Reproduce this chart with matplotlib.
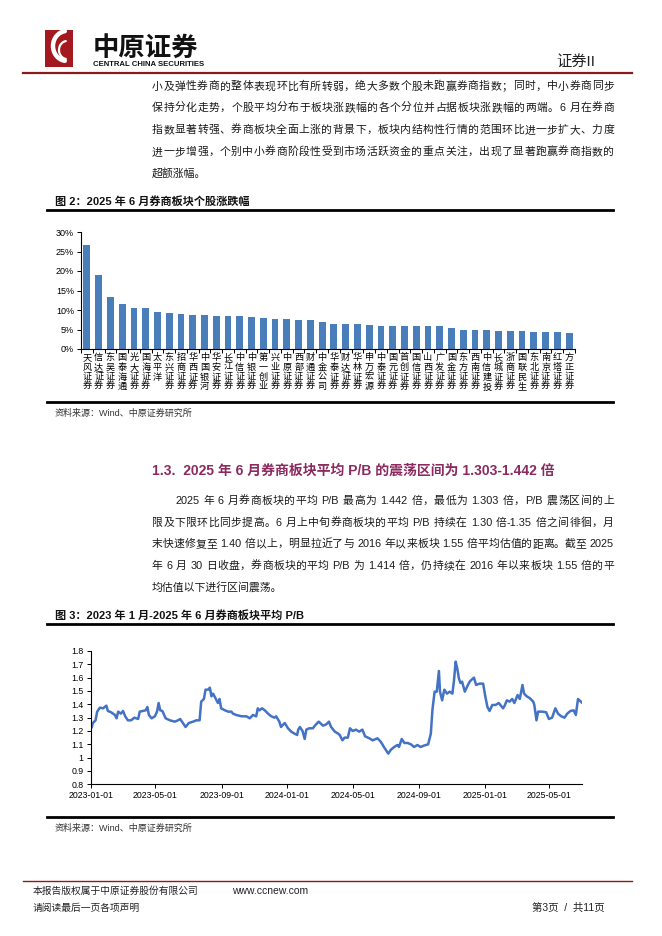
import matplotlib
matplotlib.use('Agg')
import numpy as np
import pandas as pd
from matplotlib import pyplot as plt
from matplotlib.lines import Line2D
from matplotlib.ticker import FuncFormatter

FAM = ['Liberation Sans', 'Noto Sans CJK SC']
plt.rcParams['font.family'] = FAM

# ---- data: figure 2, June 2025 broker stock returns (%)
brokers = ['天风证券', '信达证券', '东吴证券', '国泰海通', '光大证券', '国海证券', '太平洋',
           '东兴证券', '招商证券', '华西证券', '中国银河', '华安证券', '长江证券', '中信证券',
           '中银证券', '第一创业', '兴业证券', '中原证券', '西部证券', '财通证券', '中金公司',
           '华泰证券', '财达证券', '华林证券', '申万宏源', '中泰证券', '国元证券', '首创证券',
           '国信证券', '山西证券', '广发证券', '国金证券', '东方证券', '西南证券', '中信建投',
           '长城证券', '浙商证券', '国联民生', '东北证券', '南京证券', '红塔证券', '方正证券']
returns = [26.7, 19.1, 13.3, 11.5, 10.5, 10.5, 9.5, 9.2, 9.0, 8.7, 8.7, 8.5, 8.5, 8.5,
           8.2, 7.9, 7.7, 7.7, 7.4, 7.4, 6.9, 6.4, 6.4, 6.4, 6.2, 5.9, 5.9, 5.9,
           5.9, 5.9, 5.9, 5.4, 4.9, 4.9, 4.9, 4.6, 4.6, 4.6, 4.4, 4.4, 4.4, 4.1]
ret_ticks = [0, 5, 10, 15, 20, 25, 30]

# ---- data: figure 3, average P/B of the broker sector
dates_2023 = ['2023-01-03', '2023-01-05', '2023-01-10', '2023-01-13', '2023-01-18', '2023-01-24',
              '2023-01-30', '2023-02-02', '2023-02-08', '2023-02-15', '2023-02-18', '2023-02-21',
              '2023-02-26', '2023-03-02', '2023-03-06', '2023-03-11', '2023-03-17', '2023-03-23',
              '2023-03-30', '2023-04-02', '2023-04-08', '2023-04-13', '2023-04-16', '2023-04-19',
              '2023-04-24', '2023-04-30', '2023-05-04', '2023-05-07', '2023-05-10', '2023-05-14',
              '2023-05-20', '2023-05-28', '2023-06-06', '2023-06-12', '2023-06-16', '2023-06-21',
              '2023-06-26', '2023-07-02', '2023-07-10', '2023-07-16', '2023-07-22', '2023-07-25',
              '2023-07-30', '2023-08-02', '2023-08-07', '2023-08-10', '2023-08-13', '2023-08-16',
              '2023-08-20', '2023-08-25', '2023-08-28', '2023-08-31', '2023-09-07', '2023-09-13',
              '2023-09-19', '2023-09-22', '2023-09-28', '2023-10-08', '2023-10-17', '2023-10-23',
              '2023-10-29', '2023-11-04', '2023-11-07', '2023-11-10', '2023-11-15', '2023-11-20',
              '2023-11-26', '2023-12-02', '2023-12-08', '2023-12-11', '2023-12-17', '2023-12-20',
              '2023-12-27']
pb_2023 = [1.23, 1.26, 1.28, 1.345, 1.375, 1.37, 1.39, 1.35, 1.34, 1.32, 1.295, 1.345,
           1.33, 1.35, 1.31, 1.28, 1.28, 1.30, 1.29, 1.345, 1.35, 1.355, 1.38, 1.32,
           1.295, 1.31, 1.345, 1.41, 1.355, 1.35, 1.295, 1.28, 1.27, 1.28, 1.29, 1.26,
           1.23, 1.26, 1.27, 1.28, 1.28, 1.42, 1.44, 1.51, 1.51, 1.525, 1.46, 1.48,
           1.45, 1.41, 1.44, 1.37, 1.355, 1.345, 1.345, 1.33, 1.32, 1.31, 1.31, 1.295,
           1.32, 1.31, 1.37, 1.355, 1.37, 1.355, 1.33, 1.31, 1.30, 1.31, 1.27, 1.23,
           1.26]

dates_2024 = ['2024-01-02', '2024-01-08', '2024-01-14', '2024-01-19', '2024-01-21', '2024-01-24',
              '2024-01-29', '2024-02-02', '2024-02-05', '2024-02-10', '2024-02-17', '2024-02-22',
              '2024-02-28', '2024-03-07', '2024-03-13', '2024-03-18', '2024-03-22', '2024-03-29',
              '2024-04-04', '2024-04-07', '2024-04-12', '2024-04-16', '2024-04-22', '2024-04-26',
              '2024-05-01', '2024-05-07', '2024-05-13', '2024-05-19', '2024-05-24', '2024-06-01',
              '2024-06-07', '2024-06-16', '2024-06-22', '2024-06-28', '2024-07-06', '2024-07-11',
              '2024-07-17', '2024-07-23', '2024-07-26', '2024-07-31', '2024-08-05', '2024-08-11',
              '2024-08-17', '2024-08-23', '2024-08-29', '2024-09-04', '2024-09-10', '2024-09-18',
              '2024-09-23', '2024-09-26', '2024-09-30', '2024-10-04', '2024-10-08', '2024-10-10',
              '2024-10-14', '2024-10-18', '2024-10-23', '2024-10-28', '2024-11-02', '2024-11-05',
              '2024-11-08', '2024-11-11', '2024-11-14', '2024-11-17', '2024-11-20', '2024-11-25',
              '2024-11-29', '2024-12-04', '2024-12-09', '2024-12-12', '2024-12-16', '2024-12-22',
              '2024-12-29']
pb_2024 = [1.22, 1.195, 1.18, 1.17, 1.21, 1.23, 1.20, 1.14, 1.21, 1.22, 1.22, 1.245,
           1.27, 1.24, 1.25, 1.27, 1.23, 1.195, 1.18, 1.17, 1.13, 1.15, 1.15, 1.22,
           1.20, 1.21, 1.195, 1.21, 1.16, 1.145, 1.13, 1.145, 1.12, 1.08, 1.03, 1.06,
           1.08, 1.095, 1.08, 1.14, 1.11, 1.11, 1.10, 1.08, 1.095, 1.08, 1.09, 1.10,
           1.18, 1.36, 1.495, 1.495, 1.65, 1.495, 1.43, 1.51, 1.48, 1.495, 1.48, 1.58,
           1.72, 1.67, 1.595, 1.56, 1.57, 1.495, 1.53, 1.57, 1.59, 1.60, 1.545, 1.555,
           1.555]

dates_2025 = ['2025-01-02', '2025-01-06', '2025-01-10', '2025-01-15', '2025-01-21', '2025-01-27',
              '2025-02-04', '2025-02-07', '2025-02-11', '2025-02-16', '2025-02-21', '2025-02-25',
              '2025-03-03', '2025-03-07', '2025-03-12', '2025-03-15', '2025-03-20', '2025-03-26',
              '2025-04-01', '2025-04-03', '2025-04-07', '2025-04-10', '2025-04-18', '2025-04-25',
              '2025-04-30', '2025-05-06', '2025-05-12', '2025-05-17', '2025-05-23', '2025-05-29',
              '2025-06-03', '2025-06-09', '2025-06-15', '2025-06-19', '2025-06-23', '2025-06-27',
              '2025-06-30']
pb_2025 = [1.46, 1.38, 1.35, 1.395, 1.395, 1.41, 1.37, 1.39, 1.43, 1.42, 1.44, 1.41,
           1.47, 1.44, 1.545, 1.48, 1.46, 1.445, 1.42, 1.395, 1.28, 1.345, 1.345, 1.34,
           1.29, 1.30, 1.37, 1.33, 1.31, 1.30, 1.33, 1.35, 1.355, 1.32, 1.44, 1.425,
           1.414]

pb_ticks = ['2023-01-01', '2023-05-01', '2023-09-01', '2024-01-01',
            '2024-05-01', '2024-09-01', '2025-01-01', '2025-05-01']

# ---- page text
para1 = ['小及弹性券商的整体表现环比有所转弱，绝大多数个股未跑赢券商指数；同时，中小券商同步',
         '保持分化走势，个股平均分布于板块涨跌幅的各个分位并占据板块涨跌幅的两端。6 月在券商',
         '指数显著转强、券商板块全面上涨的背景下，板块内结构性行情的范围环比进一步扩大、力度',
         '进一步增强，个别中小券商阶段性受到市场活跃资金的重点关注，出现了显著跑赢券商指数的',
         '超额涨幅。']
para2 = ['2025 年 6 月券商板块的平均 P/B 最高为 1.442 倍，最低为 1.303 倍，P/B 震荡区间的上',
         '限及下限环比同步提高。6 月上中旬券商板块的平均 P/B 持续在 1.30 倍-1.35 倍之间徘徊，月',
         '末快速修复至 1.40 倍以上，明显拉近了与 2016 年以来板块 1.55 倍平均估值的距离。截至 2025',
         '年 6 月 30 日收盘，券商板块的平均 P/B 为 1.414 倍，仍持续在 2016 年以来板块 1.55 倍的平',
         '均估值以下进行区间震荡。']

W, H = 662, 936
fig = plt.figure(figsize=(W / 100, H / 100), dpi=100)
renderer = fig.canvas.get_renderer()


def fx(x):
    return x / W


def fy(y):
    return 1 - y / H


def hline(x0, x1, y, color, lw):
    fig.add_artist(Line2D([fx(x0), fx(x1)], [fy(y), fy(y)], color=color, lw=lw,
                          transform=fig.transFigure))


def tokens(s):
    out, run = [], ''
    for ch in s:
        if ord(ch) < 128 and ch != ' ':
            run += ch
        else:
            if run:
                out.append(run)
                run = ''
            out.append(ch)
    if run:
        out.append(run)
    return out


def tok_width(tok, size):
    if tok == ' ':
        return size * 100 / 72 * 0.28
    t = fig.text(0, 0, tok, fontsize=size)
    w = t.get_window_extent(renderer).width
    t.remove()
    return w


# justified line: spread the tokens so that the line fills x0..x1
def put_line(s, x0, x1, y, size, color='#1a1a1a'):
    toks = tokens(s)
    ws = [tok_width(t, size) for t in toks]
    gap = (x1 - x0 - sum(ws)) / (len(toks) - 1)
    x = x0
    for t, w in zip(toks, ws):
        if t != ' ':
            fig.text(fx(x), fy(y), t, fontsize=size, color=color, va='baseline')
        x += w + gap


def put_para(lines, x_first, x0, x1, y0, step, size):
    for i, s in enumerate(lines):
        y = y0 + i * step
        start = x_first if i == 0 else x0
        if i < len(lines) - 1:
            put_line(s, start, x1, y, size)
        else:
            fig.text(fx(start), fy(y), s, fontsize=size, color='#1a1a1a', va='baseline')


# ---- header
logo = fig.add_axes([fx(45), fy(67), 28 / W, 37 / H])
logo.set_xlim(0, 28)
logo.set_ylim(0, 37)
logo.axis('off')
logo.add_patch(plt.Rectangle((0, 0), 28, 37, color='#A3191F'))
t = np.linspace(np.pi * 0.55, np.pi * 1.45, 40)
logo.plot(22 + 14 * np.cos(t), 21 + 15 * np.sin(t), color='white', lw=3.2, solid_capstyle='round')
logo.plot(22 + 8 * np.cos(t), 17 + 9 * np.sin(t), color='white', lw=1.6, solid_capstyle='round')

fig.text(fx(93), fy(56), '中原证券', fontsize=19, fontweight='bold', color='#111111', va='baseline')
fig.text(fx(93), fy(65.5), 'CENTRAL CHINA SECURITIES', fontsize=5.6, fontweight='bold',
         color='#111111', va='baseline')
fig.text(fx(556), fy(66), '证券II', fontsize=11, color='#222222', va='baseline')
hline(23, 632, 72.5, '#8B1A1A', 1.6)

# ---- first paragraph
put_para(para1, 152, 152, 614, 89.5, 21.8, 7.8)

# ---- figure 2
fig.text(fx(55), fy(204.5), '图 2：2025 年 6 月券商板块个股涨跌幅', fontsize=8, fontweight='bold',
         color='#111111', va='baseline')
hline(47, 613, 210, '#000000', 2.0)

ax1 = fig.add_axes([fx(81), fy(349), (575 - 81) / W, (349 - 232) / H])
xpos = np.arange(len(brokers))
ax1.bar(xpos, returns, width=0.58, color='#4A7EBB')
ax1.set_xlim(-0.5, len(brokers) - 0.5)
ax1.set_ylim(0, 30)
ax1.set_yticks(ret_ticks)
ax1.yaxis.set_major_formatter(FuncFormatter(lambda v, p: '%d%%' % v))
ax1.set_xticks(xpos)
ax1.set_xticklabels(['\n'.join(n) for n in brokers], fontsize=6.6, linespacing=1.1, va='top')
ax1.set_xticks(np.arange(-0.5, len(brokers), 1), minor=True)
ax1.tick_params(axis='x', which='major', length=0, pad=3)
ax1.tick_params(axis='x', which='minor', length=3, direction='out', width=0.7)
ax1.tick_params(axis='y', labelsize=6.5, length=3, width=0.7, pad=2)
for side in ['top', 'right']:
    ax1.spines[side].set_visible(False)
for side in ['left', 'bottom']:
    ax1.spines[side].set_linewidth(0.8)

hline(47, 613, 402, '#000000', 2.0)
fig.text(fx(55), fy(415.5), '资料来源：Wind、中原证券研究所', fontsize=6.5, color='#333333', va='baseline')

# ---- section 1.3
fig.text(fx(152), fy(474.5), '1.3.  2025 年 6 月券商板块平均 P/B 的震荡区间为 1.303-1.442 倍',
         fontsize=10, fontweight='bold', color='#8B2A5E', va='baseline')
put_para(para2, 175, 152, 614, 504, 21.6, 7.8)

# ---- figure 3
fig.text(fx(55), fy(618.5), '图 3：2023 年 1 月-2025 年 6 月券商板块平均 P/B', fontsize=8,
         fontweight='bold', color='#111111', va='baseline')
hline(47, 613, 624, '#000000', 2.0)

pb_dates = pd.to_datetime(dates_2023 + dates_2024 + dates_2025)
pb_vals = pb_2023 + pb_2024 + pb_2025

ax2 = fig.add_axes([fx(90.7), fy(784.3), (582.3 - 90.7) / W, (784.3 - 651) / H])
ax2.plot(pb_dates, pb_vals, color='#4472C4', lw=1.8)
ax2.set_xlim(pd.Timestamp('2023-01-01'), pd.Timestamp('2025-07-01'))
ax2.set_ylim(0.8, 1.8)
ax2.set_yticks(np.round(np.arange(0.8, 1.81, 0.1), 1))
ax2.yaxis.set_major_formatter(FuncFormatter(lambda v, p: '%g' % round(v, 1)))
ax2.set_xticks(pd.to_datetime(pb_ticks))
ax2.set_xticklabels(pb_ticks)
ax2.tick_params(axis='both', labelsize=6.3, length=3, width=0.7, pad=2)
for side in ['top', 'right']:
    ax2.spines[side].set_visible(False)
for side in ['left', 'bottom']:
    ax2.spines[side].set_linewidth(0.8)

hline(47, 613, 817, '#000000', 2.0)
fig.text(fx(55), fy(830.5), '资料来源：Wind、中原证券研究所', fontsize=6.5, color='#333333', va='baseline')

# ---- footer
hline(23, 632, 881, '#8B1A1A', 1.0)
fig.text(fx(33), fy(894), '本报告版权属于中原证券股份有限公司', fontsize=7, color='#222222', va='baseline')
fig.text(fx(232), fy(894), 'www.ccnew.com', fontsize=7.5, color='#222222', va='baseline')
fig.text(fx(33), fy(911), '请阅读最后一页各项声明', fontsize=7, color='#222222', va='baseline')
fig.text(fx(605), fy(911), '第3页  /  共11页', fontsize=7.5, color='#222222', va='baseline', ha='right')

fig.savefig('out.png', dpi=100)
